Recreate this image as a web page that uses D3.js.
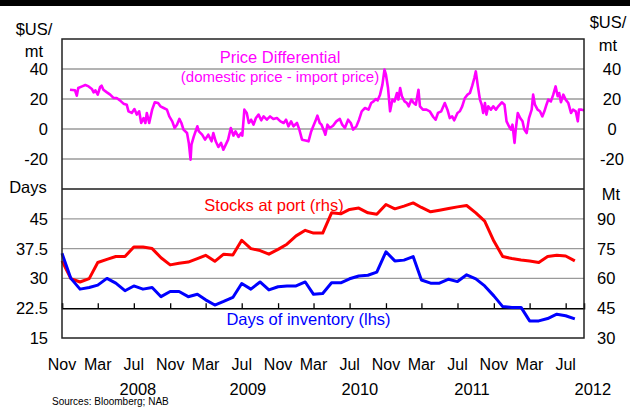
<!DOCTYPE html>
<html lang="en">
<head>
    <meta charset="UTF-8">
    <title>Price differential, stocks at port and days of inventory</title>
    <style>
        body { margin: 0; background: #fff; }
        svg { display: block; font-family: "Liberation Sans", Arial, sans-serif; }
    </style>
    <script src="https://d3js.org/d3.v7.min.js"></script>
</head>
<body>
    <script>
        // price differential, US$/mt (domestic price - import price)
        const priceDates = [
            "2007-11-28","2007-12-15","2007-12-21","2007-12-26","2008-01-08","2008-01-19","2008-01-30","2008-02-10",
            "2008-02-16","2008-02-22","2008-03-01","2008-03-09","2008-03-14","2008-03-20","2008-04-01","2008-04-12",
            "2008-04-23","2008-05-04","2008-05-15","2008-05-27","2008-06-07","2008-06-13","2008-06-24","2008-07-03",
            "2008-07-11","2008-07-19","2008-07-26","2008-08-03","2008-08-09","2008-08-14","2008-08-22","2008-09-01",
            "2008-09-10","2008-09-21","2008-09-29","2008-10-10","2008-10-21","2008-10-29","2008-11-08","2008-11-16",
            "2008-11-24","2008-12-02","2008-12-09","2008-12-16","2008-12-28","2009-01-03","2009-01-09","2009-01-12",
            "2009-01-20","2009-02-01","2009-02-06","2009-02-17","2009-02-27","2009-03-10","2009-03-21","2009-03-27",
            "2009-04-04","2009-04-13","2009-04-22","2009-04-30","2009-05-08","2009-05-16","2009-05-25","2009-06-03",
            "2009-06-10","2009-06-20","2009-06-29","2009-07-03","2009-07-10","2009-07-18","2009-07-25","2009-08-02",
            "2009-08-10","2009-08-18","2009-08-27","2009-09-05","2009-09-13","2009-09-24","2009-10-05","2009-10-16",
            "2009-10-28","2009-11-09","2009-11-20","2009-11-28","2009-12-06","2009-12-15","2009-12-23","2010-01-04",
            "2010-01-12","2010-01-21","2010-02-02","2010-02-12","2010-02-21","2010-02-28","2010-03-07","2010-03-14",
            "2010-03-22","2010-03-28","2010-04-06","2010-04-10","2010-04-17","2010-04-25","2010-05-06","2010-05-17",
            "2010-05-29","2010-06-06","2010-06-15","2010-06-26","2010-07-05","2010-07-13","2010-07-24","2010-08-02",
            "2010-08-11","2010-08-22","2010-09-03","2010-09-12","2010-09-20","2010-09-28","2010-10-04","2010-10-12",
            "2010-10-20","2010-10-27","2010-11-01","2010-11-08","2010-11-15","2010-11-23","2010-11-30","2010-12-08",
            "2010-12-13","2010-12-19","2010-12-25","2011-01-03","2011-01-11","2011-01-17","2011-01-26","2011-02-03",
            "2011-02-10","2011-02-19","2011-02-24","2011-03-06","2011-03-18","2011-03-29","2011-04-10","2011-04-18",
            "2011-04-26","2011-05-07","2011-05-19","2011-05-28","2011-06-05","2011-06-13","2011-06-20","2011-07-01",
            "2011-07-09","2011-07-17","2011-07-26","2011-08-04","2011-08-12","2011-08-20","2011-08-27","2011-09-01",
            "2011-09-08","2011-09-15","2011-09-21","2011-09-26","2011-10-02","2011-10-07","2011-10-13","2011-10-22",
            "2011-10-30","2011-11-08","2011-11-16","2011-11-28","2011-12-07","2011-12-14","2011-12-22","2011-12-29",
            "2012-01-03","2012-01-10","2012-01-14","2012-01-21","2012-01-29","2012-02-06","2012-02-12","2012-02-20",
            "2012-02-28","2012-03-08","2012-03-13","2012-03-19","2012-03-28","2012-04-05","2012-04-13","2012-04-20",
            "2012-04-27","2012-05-03","2012-05-12","2012-05-20","2012-05-28","2012-06-04","2012-06-09","2012-06-15",
            "2012-06-23","2012-07-01","2012-07-10","2012-07-19","2012-07-26","2012-08-04","2012-08-11","2012-08-15",
            "2012-08-24","2012-09-01"
        ];
        const priceDiff = [
            26.2, 25.8, 22.2, 27.3, 28.4, 29.3, 28.4, 26.7, 24.4, 25.8, 22.9, 28.0, 28.9, 26.2, 24.4, 22.9,
            20.7, 20.7, 19.1, 16.9, 16.2, 11.8, 10.7, 13.3, 9.6, 11.8, 4.0, 7.3, 4.0, 10.7, 4.0, 12.9,
            17.8, 17.3, 15.1, 14.0, 12.9, 8.4, 5.1, 0.7, 2.9, 6.7, 4.0, -0.4, -2.7, -9.3, -20.4, -10.4,
            -4.9, 1.8, -1.6, -3.8, -7.1, -3.8, -8.2, -2.7, -8.2, -12.0, -9.3, -13.8, -10.4, -7.1, 0.7, -4.4,
            -1.6, -5.3, -2.7, -4.4, 12.9, 10.7, 4.0, 6.2, 2.9, 7.3, 9.6, 5.8, 8.4, 6.2, 8.4, 6.7,
            7.3, 5.1, 4.0, 6.2, 1.8, 5.1, 1.8, 4.0, -0.4, -7.1, -7.6, -8.2, -1.6, 1.8, 5.1, 8.9,
            4.0, 2.9, -1.6, -3.8, 2.9, 0.7, 2.2, 5.1, 6.7, 2.9, 0.7, 6.2, 4.0, -0.4, 1.8, 6.2,
            11.8, 14.0, 12.9, 17.3, 18.4, 20.0, 19.1, 22.9, 29.6, 39.6, 36.2, 27.3, 11.8, 19.6, 18.4, 24.0,
            19.6, 27.3, 21.8, 18.4, 17.3, 15.1, 19.6, 17.3, 16.2, 26.2, 15.1, 12.9, 12.9, 11.8, 8.0, 6.2,
            10.7, 11.8, 17.3, 12.9, 7.3, 8.4, 5.8, 10.7, 11.8, 15.1, 20.7, 22.9, 24.0, 28.9, 34.0, 38.4,
            28.4, 19.6, 16.2, 10.7, 17.3, 9.6, 15.1, 12.9, 15.1, 12.9, 15.1, 17.8, 16.2, 5.1, 1.8, -0.4,
            2.9, -9.3, -0.4, 10.7, 7.3, 5.1, -0.4, -2.7, 7.3, 12.9, 22.9, 16.2, 12.9, 11.8, 8.4, 11.8,
            16.2, 19.6, 18.4, 22.9, 28.4, 21.8, 24.0, 17.8, 22.9, 19.6, 17.3, 10.7, 12.9, 11.8, 5.1, 12.9,
            12.9, 12.5
        ];

        // monthly series, Nov 2007 - Aug 2012
        const stocksMt = [
            68.8, 59.9,
            58.2, 59.9, 68.0, 69.6, 71.0, 71.0, 75.8, 75.8, 75.0, 70.4, 66.8, 67.6,
            68.2, 70.0, 71.6, 68.6, 72.2, 71.8, 79.2, 75.0, 74.0, 72.2, 74.6, 77.2,
            81.4, 84.2, 82.8, 82.8, 93.0, 92.5, 94.7, 95.4, 93.0, 92.3, 97.2, 95.0,
            96.4, 98.0, 95.7, 93.5, 94.3, 95.2, 96.0, 96.7, 93.0, 88.8, 78.8, 71.0,
            70.0, 69.3, 68.8, 68.0, 71.0, 71.6, 71.3, 68.8
        ];
        const inventoryDays = [
            36.3, 30.0,
            27.3, 27.7, 28.3, 30.0, 28.8, 26.9, 28.1, 27.3, 27.7, 25.4, 26.7, 26.7,
            25.4, 26.0, 24.6, 23.3, 24.2, 25.2, 28.7, 27.3, 29.1, 27.1, 27.9, 28.1,
            28.1, 29.1, 26.0, 26.2, 28.9, 28.9, 29.9, 30.6, 30.8, 31.6, 36.7, 34.4,
            34.6, 35.5, 29.6, 28.8, 28.8, 29.8, 29.2, 30.9, 29.9, 28.1, 25.6, 22.9,
            22.7, 22.7, 19.3, 19.3, 19.9, 21.0, 20.6, 19.8
        ];

        const topTicks = [-20, 0, 20, 40];
        const daysTicks = [15, 22.5, 30, 37.5, 45];
        const mtTicks = [30, 45, 60, 75, 90];
        const monthTicks = [
            "2007-11-01","2008-03-01","2008-07-01","2008-11-01","2009-03-01","2009-07-01","2009-11-01","2010-03-01",
            "2010-07-01","2010-11-01","2011-03-01","2011-07-01","2011-11-01","2012-03-01","2012-07-01"
        ];
        const yearLabels = ["2008", "2009", "2010", "2011", "2012"];
        const yearLabelDates = ["2008-07-15", "2009-07-22", "2010-08-05", "2011-08-19", "2012-10-01"];

        const W = 630, H = 408;
        const LEFT = 62, RIGHT = 584, TOP = 39, MID = 189, BOTTOM = 338;
        const FONT = "16.5px";
        const parse = d3.timeParse("%Y-%m-%d");

        const x = d3.scaleTime()
            .domain([new Date(2007, 10, 1), new Date(2012, 8, 1)])
            .range([LEFT, RIGHT]);
        const yTop = d3.scaleLinear().domain([-40, 60]).range([MID, TOP]);
        const yDays = d3.scaleLinear().domain([15, 52.5]).range([BOTTOM, MID]);
        const yMt = d3.scaleLinear().domain([30, 105]).range([BOTTOM, MID]);

        const months = d3.timeMonth.range(new Date(2007, 10, 1), new Date(2012, 8, 1));

        const svg = d3.select("body").append("svg")
            .attr("width", W)
            .attr("height", H);

        svg.append("rect").attr("width", W).attr("height", H).attr("fill", "#fff");
        svg.append("rect").attr("width", W).attr("height", 6).attr("fill", "#000");

        // gridlines
        svg.selectAll(".gtop")
            .data(topTicks)
            .enter().append("line")
            .attr("x1", LEFT).attr("x2", RIGHT)
            .attr("y1", d => yTop(d)).attr("y2", d => yTop(d))
            .attr("stroke", "#9a9a9a").attr("stroke-width", 1.3);

        svg.selectAll(".gbot")
            .data([30, 37.5, 45])
            .enter().append("line")
            .attr("x1", LEFT).attr("x2", RIGHT)
            .attr("y1", d => yDays(d)).attr("y2", d => yDays(d))
            .attr("stroke", "#9a9a9a").attr("stroke-width", 1.3);

        // x axis sits on the 22.5 line, ticks pointing up
        const xAxis = svg.append("g")
            .attr("transform", `translate(0,${yDays(22.5)})`)
            .call(d3.axisTop(x).tickValues(monthTicks.map(parse)).tickSize(5).tickFormat(""));
        xAxis.select(".domain").attr("stroke", "#000").attr("stroke-width", 1.5);
        xAxis.selectAll(".tick line").attr("stroke", "#000").attr("stroke-width", 1.3);

        // lines
        const priceLine = d3.line()
            .x((d, i) => x(parse(priceDates[i])))
            .y(d => yTop(d));
        svg.append("path")
            .datum(priceDiff)
            .attr("d", priceLine)
            .attr("fill", "none")
            .attr("stroke", "#ff00ff")
            .attr("stroke-width", 2.6)
            .attr("stroke-linejoin", "round");

        svg.append("path")
            .datum(stocksMt)
            .attr("d", d3.line().x((d, i) => x(months[i])).y(d => yMt(d)))
            .attr("fill", "none")
            .attr("stroke", "#ff0000")
            .attr("stroke-width", 3)
            .attr("stroke-linejoin", "round");

        svg.append("path")
            .datum(inventoryDays)
            .attr("d", d3.line().x((d, i) => x(months[i])).y(d => yDays(d)))
            .attr("fill", "none")
            .attr("stroke", "#0000ff")
            .attr("stroke-width", 3)
            .attr("stroke-linejoin", "round");

        // panel divider and frame
        svg.append("line")
            .attr("x1", LEFT).attr("x2", RIGHT)
            .attr("y1", MID).attr("y2", MID)
            .attr("stroke", "#555").attr("stroke-width", 2);
        svg.append("rect")
            .attr("x", LEFT).attr("y", TOP)
            .attr("width", RIGHT - LEFT).attr("height", BOTTOM - TOP)
            .attr("fill", "none").attr("stroke", "#222").attr("stroke-width", 1.5);

        // y tick labels
        function tickLabels(data, scale, xPos, anchor) {
            svg.append("g").selectAll("text")
                .data(data)
                .enter().append("text")
                .attr("x", xPos)
                .attr("y", d => scale(d))
                .attr("dy", "0.36em")
                .attr("text-anchor", anchor)
                .attr("font-size", FONT)
                .text(d => d);
        }
        tickLabels(topTicks, yTop, 48, "end");
        tickLabels(topTicks, yTop, 612, "middle");
        tickLabels(daysTicks, yDays, 48, "end");
        tickLabels(mtTicks, yMt, 597, "start");

        // unit labels
        const units = [
            { t: "$US/", x: 34, y: 35, a: "middle" },
            { t: "mt", x: 34, y: 56.5, a: "middle" },
            { t: "$US/", x: 608, y: 27.5, a: "middle" },
            { t: "mt", x: 608, y: 50.5, a: "middle" },
            { t: "Days", x: 28, y: 192.5, a: "middle" },
            { t: "Mt", x: 611, y: 199.5, a: "middle" }
        ];
        svg.selectAll(".unit")
            .data(units)
            .enter().append("text")
            .attr("x", d => d.x).attr("y", d => d.y)
            .attr("text-anchor", d => d.a)
            .attr("font-size", FONT)
            .text(d => d.t);

        // series annotations
        svg.append("text").attr("x", 280).attr("y", 62.5).attr("text-anchor", "middle")
            .attr("font-size", FONT).attr("fill", "#ff00ff").text("Price Differential");
        svg.append("text").attr("x", 280).attr("y", 82).attr("text-anchor", "middle")
            .attr("font-size", "15px").attr("fill", "#ff00ff").text("(domestic price - import price)");
        svg.append("text").attr("x", 274).attr("y", 211).attr("text-anchor", "middle")
            .attr("font-size", FONT).attr("fill", "#ff0000").text("Stocks at port (rhs)");
        svg.append("text").attr("x", 308.5).attr("y", 324.5).attr("text-anchor", "middle")
            .attr("font-size", FONT).attr("fill", "#0000ff").text("Days of inventory (lhs)");

        // x labels
        const fmtMonth = d3.timeFormat("%b");
        svg.selectAll(".month")
            .data(monthTicks)
            .enter().append("text")
            .attr("x", d => x(parse(d)))
            .attr("y", 370)
            .attr("text-anchor", "middle")
            .attr("font-size", "16px")
            .text(d => fmtMonth(parse(d)));

        svg.selectAll(".year")
            .data(yearLabels)
            .enter().append("text")
            .attr("x", (d, i) => x(parse(yearLabelDates[i])))
            .attr("y", 394.5)
            .attr("text-anchor", "middle")
            .attr("font-size", FONT)
            .text(d => d);

        svg.append("text")
            .attr("x", 52).attr("y", 405)
            .attr("font-size", "10px")
            .text("Sources: Bloomberg; NAB");
    </script>
</body>
</html>
